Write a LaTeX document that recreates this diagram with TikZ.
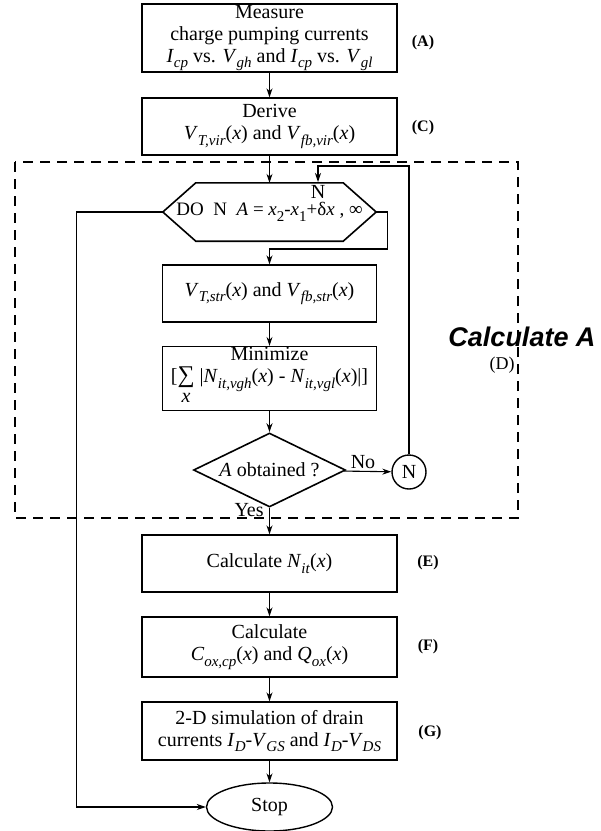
\documentclass[tikz,border=0pt]{standalone}
\usepackage{fontspec}
\setmainfont{Liberation Serif}
\newfontfamily\lsans{Liberation Sans}
\usetikzlibrary{arrows.meta,shapes.geometric,calc}
\newcommand\sbx[1]{\raisebox{-0.28em}{\fontsize{15}{15}\selectfont #1}}
\newcommand\vs[2]{\textit{#1}\sbx{\textit{#2}}}
\begin{document}
\begin{tikzpicture}[x=1pt,y=-1pt,
  txt/.style={font=\fontsize{20}{22}\selectfont},
  box/.style={txt,draw,line width=1.4pt,minimum width=255pt,align=center,inner sep=1pt},
  lab/.style={font=\fontsize{16}{16}\selectfont\bfseries},
  arr/.style={-{Stealth[length=9pt,width=6pt]},line width=1.1pt},
  ln/.style={line width=1.1pt}]
\useasboundingbox (0,0) rectangle (601,831);
% dashed region
\draw[line width=1.2pt,dash pattern=on 10pt off 7pt] (15,162) rectangle (518,518);
% boxes
\node[box,minimum height=65pt] (A) at (269.5,38) {Measure\\charge pumping currents\\\vs{I}{cp} vs. \vs{V}{gh} and \vs{I}{cp} vs. \vs{V}{gl}};
\node[box,minimum height=57pt] (C) at (269.5,126.5) {Derive\\\vs{V}{T,vir}(\textit{x}) and \vs{V}{fb,vir}(\textit{x})};
\node[font=\fontsize{19}{21}\selectfont,minimum width=213pt,minimum height=58pt,inner sep=0pt] (hex) at (269.5,212) {DO\ \ N\ \ \textit{A} = \textit{x}\sbx{2}-\textit{x}\sbx{1}+δ\textit{x} , ∞};
\draw[line width=1.6pt] (hex.west) -- ([xshift=33pt]hex.north west) -- ([xshift=-33pt]hex.north east) -- (hex.east) -- ([xshift=-33pt]hex.south east) -- ([xshift=33pt]hex.south west) -- cycle;
\node[txt,inner sep=0pt] (nl) at (318,192) {N};
\node[box,minimum width=214pt,minimum height=57pt] (str) at (269.5,293.5) {\vs{V}{T,str}(\textit{x}) and \vs{V}{fb,str}(\textit{x})};
\node[box,minimum width=214pt,minimum height=59pt] (min) at (269.5,378.5) {Minimize\\{[}\begin{tabular}[t]{@{}c@{}}{\fontsize{24}{24}\selectfont ∑}\\[-2pt]\textit{x}\end{tabular} |\vs{N}{it,vgh}(\textit{x}) - \vs{N}{it,vgl}(\textit{x})|]};
\node[txt,diamond,draw,line width=1.6pt,minimum width=152pt,minimum height=74pt,inner sep=0pt,aspect=2] (dia) at (269.5,470) {\textit{A} obtained ?};
\node[txt,circle,draw,line width=1.4pt,minimum size=34pt,inner sep=0pt] (Nc) at (409,472) {N};
\node[box,minimum height=57pt] (E) at (269.5,563.5) {Calculate \vs{N}{it}(\textit{x})};
\node[box,minimum height=60pt] (F) at (269.5,647) {Calculate\\\vs{C}{ox,cp}(\textit{x}) and \vs{Q}{ox}(\textit{x})};
\node[box,minimum height=58pt] (G) at (269.5,731) {2-D simulation of drain\\currents \vs{I}{D}-\vs{V}{GS} and \vs{I}{D}-\vs{V}{DS}};
\node[txt,ellipse,draw,line width=1.4pt,minimum width=126pt,minimum height=48pt,inner sep=0pt] (stop) at (269.5,807) {Stop};
% side labels
\node[lab] (lA) at (423,43) {(A)};
\node[lab] (lC) at (423,128) {(C)};
\node[lab] (lE) at (428,563) {(E)};
\node[lab] (lF) at (428,647) {(F)};
\node[lab] (lG) at (430,733) {(G)};
\node[font=\fontsize{18}{18}\selectfont] (lD) at (502,365) {(D)};
\node[font=\lsans\bfseries\itshape\fontsize{27}{27}\selectfont] (calcA) at (522,337) {Calculate A};
% connectors
\coordinate (ntop) at (318,166);
\coordinate (nin) at (318,182);
\draw[arr] (A) -- (C);
\draw[arr] (C) -- (hex.north);
\draw[arr] (Nc.north) |- (ntop) -- (nin);
\draw[arr] (hex.east) -- ++(11,0) -- ++(0,37) -| (str.north);
\draw[arr] (str) -- (min);
\draw[arr] (min) -- (dia);
\draw[arr] (dia) -- node[txt,pos=0.4,above=-1pt]{No} (Nc);
\draw[arr] (dia.south) -- node[txt,pos=0.1,left=2pt]{Yes} (E.north);
\draw[arr] (E) -- (F);
\draw[arr] (F) -- (G);
\draw[arr] (G) -- (stop);
\draw[arr] (hex.west) -- ++(-86,0) |- (stop.west);
\end{tikzpicture}
\end{document}
